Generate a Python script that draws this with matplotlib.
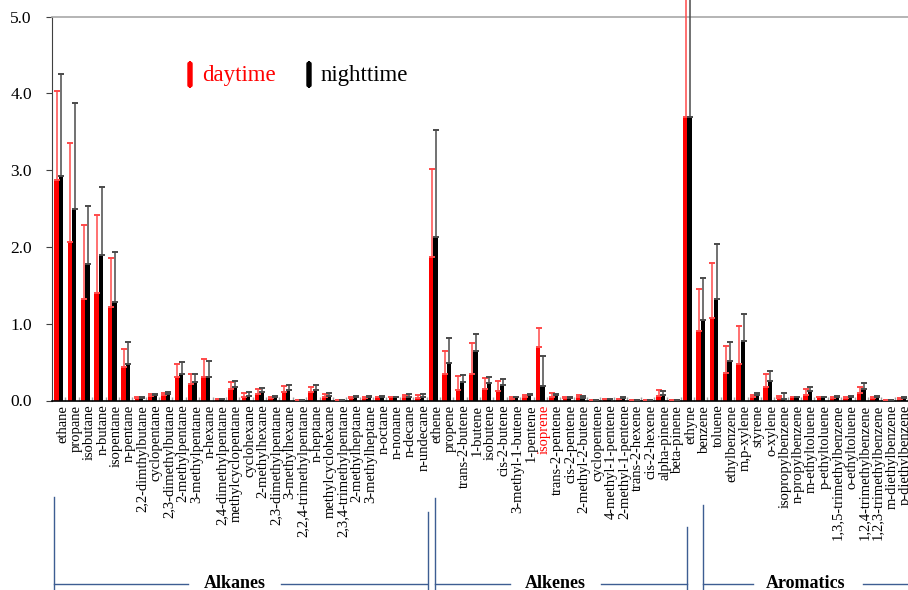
import numpy as np
import matplotlib
matplotlib.use("Agg")
import matplotlib.pyplot as plt
import matplotlib.transforms as mtransforms
from matplotlib.lines import Line2D
from matplotlib.patches import FancyBboxPatch

plt.rcParams['font.family'] = ['Liberation Serif', 'DejaVu Serif']

alkanes = ['ethane', 'propane', 'isobutane', 'n-butane', 'isopentane', 'n-pentane',
           '2,2-dimthylbutane', 'cyclopentane', '2,3-dimethylbutane', '2-methylpentane',
           '3-methylpentane', 'n-hexane', '2,4-dimethylpentane', 'methylcyclopentane',
           'cyclohexane', '2-methylhexane', '2,3-dimethylpentane', '3-methylhexane',
           '2,2,4-trimethylpentane', 'n-heptane', 'methylcyclohexane',
           '2,3,4-trimethylpentane', '2-methylheptane', '3-methylheptane', 'n-octane',
           'n-nonane', 'n-decane', 'n-undecane']
alkenes = ['ethene', 'propene', 'trans-2-butene', '1-butene', 'isobutene', 'cis-2-butene',
           '3-methyl-1-butene', '1-pentene', 'isoprene', 'trans-2-pentene', 'cis-2-pentene',
           '2-methyl-2-butene', 'cyclopentene', '4-methyl-1-pentene', '2-methyl-1-pentene',
           'trans-2-hexene', 'cis-2-hexene', 'alpha-pinene', 'beta-pinene']
alkynes = ['ethyne']
aromatics = ['benzene', 'toluene', 'ethylbenzene', 'm,p-xylene', 'styrene', 'o-xylene',
             'isopropylbenzene', 'n-propylbenzene', 'm-ethyltoluene', 'p-ethyltoluene',
             '1,3,5-trimethylbenzene', 'o-ethyltoluene', '1,2,4-trimethylbenzene',
             '1,2,3-trimethylbenzene', 'm-diethylbenzene', 'p-diethylbenzene']
names = alkanes + alkenes + alkynes + aromatics

# daytime / nighttime means and upper error bars
day = [2.87, 2.06, 1.32, 1.40, 1.22, 0.44, 0.03, 0.06, 0.07, 0.31, 0.22, 0.30, 0.02, 0.15,
       0.05, 0.087, 0.035, 0.11, 0.01, 0.11, 0.048, 0.01, 0.035, 0.035, 0.043, 0.043, 0.04, 0.03,
       1.87, 0.35, 0.14, 0.34, 0.15, 0.13, 0.02, 0.043, 0.70, 0.052, 0.035, 0.043, 0.01, 0.02,
       0.017, 0.01, 0.01, 0.06, 0.01,
       3.69,
       0.91, 1.07, 0.36, 0.48, 0.043, 0.17, 0.03, 0.043, 0.078, 0.043, 0.035, 0.035, 0.10,
       0.035, 0.01, 0.026]
day_err = [1.16, 1.30, 0.96, 1.02, 0.64, 0.23, 0.02, 0.03, 0.03, 0.17, 0.12, 0.24, 0.005, 0.09,
           0.05, 0.063, 0.013, 0.08, 0.003, 0.06, 0.032, 0.003, 0.005, 0.005, 0.008, 0.005, 0.038,
           0.044,
           1.15, 0.30, 0.18, 0.41, 0.14, 0.13, 0.02, 0.031, 0.24, 0.048, 0.005, 0.031, 0.003,
           0.005, 0.005, 0.003, 0.003, 0.08, 0.003,
           1.6,
           0.54, 0.72, 0.35, 0.49, 0.031, 0.18, 0.03, 0.005, 0.072, 0.005, 0.013, 0.013, 0.08,
           0.013, 0.003, 0.01]
night = [2.92, 2.50, 1.78, 1.90, 1.28, 0.48, 0.035, 0.07, 0.09, 0.34, 0.24, 0.31, 0.02, 0.18,
         0.065, 0.11, 0.048, 0.14, 0.01, 0.14, 0.06, 0.01, 0.048, 0.048, 0.05, 0.045, 0.052,
         0.052,
         2.13, 0.49, 0.24, 0.64, 0.225, 0.20, 0.04, 0.074, 0.19, 0.074, 0.035, 0.03, 0.01, 0.02,
         0.035, 0.01, 0.01, 0.074, 0.01,
         3.69,
         1.05, 1.32, 0.52, 0.77, 0.074, 0.26, 0.02, 0.043, 0.12, 0.043, 0.052, 0.052, 0.15,
         0.052, 0.01, 0.03]
night_err = [1.33, 1.38, 0.75, 0.88, 0.65, 0.28, 0.01, 0.02, 0.015, 0.16, 0.11, 0.21, 0.005,
             0.08, 0.045, 0.05, 0.005, 0.06, 0.003, 0.06, 0.035, 0.003, 0.005, 0.005, 0.015,
             0.005, 0.035, 0.035,
             1.40, 0.33, 0.09, 0.23, 0.085, 0.08, 0.005, 0.013, 0.39, 0.013, 0.005, 0.03, 0.003,
             0.005, 0.005, 0.003, 0.003, 0.05, 0.003,
             1.7,
             0.54, 0.72, 0.24, 0.36, 0.026, 0.12, 0.08, 0.005, 0.05, 0.005, 0.013, 0.013, 0.075,
             0.013, 0.003, 0.01]

groups = ['Alkanes', 'Alkenes', 'Aromatics']
yticks = [0, 1, 2, 3, 4, 5]

W, H = 908, 590
fig = plt.figure(figsize=(W / 100, H / 100), dpi=100)
ax = fig.add_axes([52 / W, 1 - 400.5 / H, 1 - 52 / W, (400.5 - 16.7) / H])

x = np.arange(len(names))
bw = 0.33
ax.bar(x - bw / 2, day, bw, color='#ff0000', zorder=2)
ax.bar(x + bw / 2, night, bw, color='#000000', zorder=3)

for off, vals, errs, lc, cc in [(-bw / 2 + 0.04, day, day_err, '#ff4a4a', '#ff0000'),
                                (bw / 2 + 0.04, night, night_err, '#4a4a4a', '#000000')]:
    eb = ax.errorbar(x + off, vals, yerr=[np.zeros(len(vals)), errs], fmt='none',
                     ecolor=lc, elinewidth=1.1, capsize=1.9, capthick=1.4, zorder=4)
    for c in eb[1]:
        c.set_color(cc)
        c.set_clip_on(False)
    for lcol in eb[2]:
        lcol.set_clip_on(False)

ax.set_xlim(-0.5, 63.4)
ax.set_ylim(0, 5)
ax.set_yticks(yticks)
ax.set_yticklabels(['%.1f' % v for v in yticks], fontsize=12.5)
ax.tick_params(axis='y', direction='out', length=4, pad=10.5, color='#404040')
ax.set_xticks(x)
ax.set_xticklabels(names, rotation=90, fontsize=10.5)
ax.tick_params(axis='x', which='major', length=0, pad=3)
ax.set_xticks(np.arange(len(names)) + 0.5, minor=True)
ax.tick_params(axis='x', which='minor', direction='in', length=3, color='#a0a0a0', width=1)
shift = mtransforms.ScaledTranslation(4 / 100, 0, fig.dpi_scale_trans)
for lab in ax.get_xticklabels():
    lab.set_transform(lab.get_transform() + shift)
    if lab.get_text() == 'isoprene':
        lab.set_color('#ff0000')

ax.spines['right'].set_visible(False)
ax.spines['top'].set_color('#a8a8a8')
ax.spines['top'].set_linewidth(1.2)
ax.spines['left'].set_color('#404040')
ax.spines['bottom'].set_color('#000000')
ax.spines['bottom'].set_linewidth(1.2)

# legend
for px, label, col in [(188, 'daytime', '#ff0000'), (307, 'nighttime', '#000000')]:
    fig.patches.append(FancyBboxPatch((px / W, 1 - 87 / H), 4 / W, 25 / H,
                                      boxstyle='round,pad=0,rounding_size=0.003',
                                      transform=fig.transFigure, color=col))
    fig.text((px + 14) / W, 1 - 75 / H, label, color=col, fontsize=16.5, va='center', ha='left')

# group brackets below the axis
bc = '#3d5d92'
def fl(x0, y0, x1, y1):
    fig.add_artist(Line2D([x0 / W, x1 / W], [1 - y0 / H, 1 - y1 / H], color=bc, lw=1))

for xv, y0 in [(54, 497), (428, 512), (435, 498), (687, 527), (703, 505)]:
    fl(xv, y0, xv, 592)
for (a0, a1), (b0, b1) in [((54, 188), (281, 427)), ((435, 510), (601, 687)),
                           ((703, 753), (863, 908))]:
    fl(a0, 584, a1, 584)
    fl(b0, 584, b1, 584)
for g, cx in zip(groups, [234.5, 555, 806]):
    fig.text(cx / W, 1 - 584 / H, g, fontsize=13, fontweight='bold', ha='center', va='center')

fig.savefig('out.png', dpi=100)
